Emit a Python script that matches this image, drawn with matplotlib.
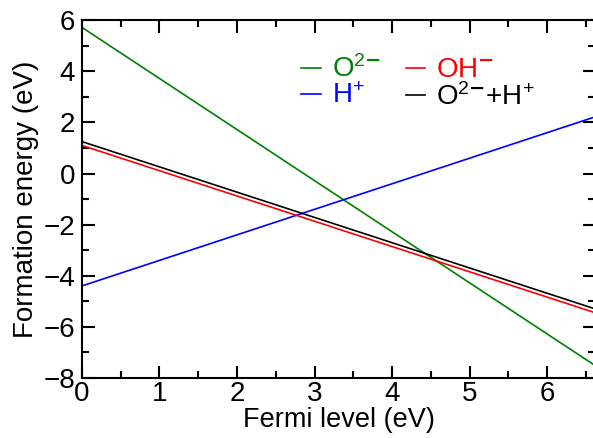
import matplotlib
matplotlib.use('Agg')
import matplotlib.pyplot as plt
from matplotlib.ticker import MultipleLocator

plt.rcParams['font.family'] = 'Liberation Sans'
plt.rcParams['mathtext.fontset'] = 'custom'
plt.rcParams['mathtext.rm'] = 'Liberation Sans'
plt.rcParams['mathtext.it'] = 'Liberation Sans'

# Fermi level endpoints (eV) and formation energies at those endpoints
fermi = [0.0, 6.62]
e_o2 = [5.72, -7.52]
e_h = [-4.40, 2.22]
e_oh = [1.10, -5.45]
e_o2h = [1.25, -5.30]

labels = [r'O$^{2{\mathbf{-}}}$', r'H$^{+}$', r'OH$^{{\mathbf{-}}}$',
          r'O$^{2{\mathbf{-}}}$+H$^{+}$']
colors = ['#008000', '#0000ff', '#ff0000', '#000000']
series = [e_o2, e_h, e_oh, e_o2h]

fig = plt.figure(figsize=(5.93, 4.38), dpi=100)
ax = fig.add_axes([0.138, 0.137, 0.866, 0.817])

handles = []
for y, c, lab in zip(series, colors, labels):
    h, = ax.plot(fermi, y, color=c, lw=1.2, label=lab)
    handles.append(h)

ax.set_xlim(0, 6.62)
ax.set_ylim(-8, 6)
ax.xaxis.set_major_locator(MultipleLocator(1))
ax.xaxis.set_minor_locator(MultipleLocator(0.5))
ax.yaxis.set_major_locator(MultipleLocator(2))
ax.yaxis.set_minor_locator(MultipleLocator(1))
ax.tick_params(which='both', direction='in', top=True, right=True, width=1.5,
               labelsize=20)
ax.tick_params(axis='x', pad=2)
ax.tick_params(axis='y', pad=5)
ax.tick_params(which='major', length=9)
ax.tick_params(which='minor', length=5)
for s in ax.spines.values():
    s.set_linewidth(1.5)

ax.set_xlabel('Fermi level (eV)', fontsize=19.5, labelpad=0)
ax.set_ylabel('Formation energy (eV)', fontsize=20, labelpad=3)

leg = ax.legend(handles=handles, ncol=2, loc='upper left',
                bbox_to_anchor=(0.40, 0.94), frameon=False, fontsize=20,
                handlelength=0.7, handletextpad=0.4, columnspacing=0.9,
                labelspacing=0.0, borderpad=0)
for t, c in zip(leg.get_texts(), colors):
    t.set_color(c)

fig.savefig('out.png', dpi=100)
